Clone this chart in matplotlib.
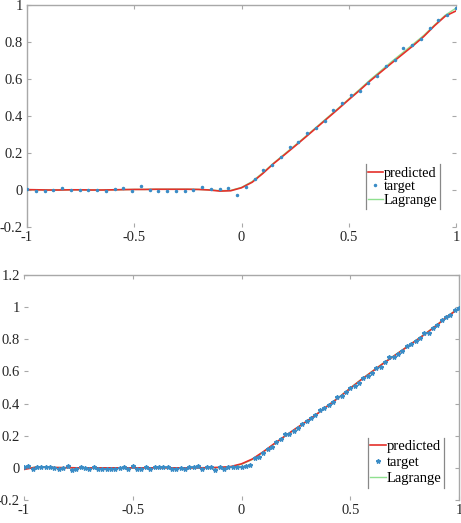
import numpy as np
import matplotlib
matplotlib.use("Agg")
import matplotlib.pyplot as plt
from matplotlib.lines import Line2D

plt.rcParams['font.family'] = ['Liberation Serif', 'DejaVu Serif']

# ---------------- data: top panel ----------------
x_target_top = np.linspace(-1, 1, 50)
y_target_top = [0.004, -0.005, -0.005, 0.002, 0.011, 0.002, 0.002, 0.002, 0.002, -0.007,
                0.007, 0.013, -0.005, 0.020, -0.002, -0.005, -0.007, -0.007, -0.007, 0.002,
                0.016, 0.004, 0.007, 0.013, -0.025,
                0.016, 0.062, 0.110, 0.134, 0.176, 0.231, 0.262, 0.307, 0.334, 0.371,
                0.430, 0.470, 0.516, 0.534, 0.576, 0.616, 0.670, 0.703, 0.765, 0.785,
                0.816, 0.874, 0.921, 0.946, 0.983]

x_curve = np.round(np.arange(-1, 1.0001, 0.05), 2)
y_pred_top = [0.002, 0.001, 0.000, 0.000, 0.001, 0.001, 0.000, 0.000, 0.001, 0.002,
              0.003, 0.003, 0.004, 0.004, 0.004, 0.004, 0.003, 0.000, -0.006, -0.004,
              0.012, 0.042, 0.090, 0.143, 0.190, 0.238, 0.287, 0.337, 0.387, 0.437,
              0.488, 0.538, 0.590, 0.638, 0.686, 0.733, 0.780, 0.830, 0.888, 0.940, 0.968]
y_lag_top = [0.002, 0.001, 0.000, 0.000, 0.001, 0.001, 0.000, 0.000, 0.001, 0.002,
             0.003, 0.003, 0.004, 0.004, 0.004, 0.004, 0.003, 0.001, -0.004, -0.002,
             0.014, 0.046, 0.094, 0.146, 0.194, 0.242, 0.291, 0.341, 0.391, 0.441,
             0.492, 0.543, 0.596, 0.645, 0.694, 0.741, 0.788, 0.836, 0.892, 0.945, 0.983]

# ---------------- data: bottom panel ----------------
x_target_bot = np.round(np.arange(-1, 1.0001, 0.02), 2)
y_target_bot = [0.005, 0.010, -0.005, 0.008, 0.004, 0.006, 0.004, 0.002, -0.004, -0.002,
                0.012, -0.016, -0.010, 0.006, 0.002, -0.006, 0.004, -0.008, -0.006, -0.006,
                -0.004, -0.004, -0.002, 0.008, -0.006, 0.010, -0.004, -0.008, 0.004, -0.006,
                0.006, 0.004, 0.006, 0.008, -0.008, -0.010, 0.002, -0.004, 0.008, 0.006,
                0.014, -0.008, 0.006, 0.004, -0.016, 0.008, -0.006, 0.004, 0.004, 0.006,
                0.004, 0.010, 0.020, 0.060, 0.070, 0.090, 0.120, 0.130, 0.160, 0.180,
                0.210, 0.210, 0.230, 0.250, 0.270, 0.290, 0.310, 0.330, 0.360, 0.370,
                0.390, 0.410, 0.440, 0.450, 0.470, 0.500, 0.510, 0.530, 0.560, 0.570,
                0.590, 0.620, 0.630, 0.660, 0.690, 0.690, 0.710, 0.730, 0.760, 0.770,
                0.790, 0.810, 0.840, 0.840, 0.870, 0.890, 0.920, 0.940, 0.950, 0.980, 0.995]
y_pred_bot = [-0.010, 0.003, 0.004, 0.002, 0.001, 0.000, 0.000, 0.000, 0.000, 0.000,
              0.000, 0.000, 0.000, 0.000, 0.000, 0.000, 0.000, 0.001, 0.003, 0.008,
              0.025, 0.055, 0.100, 0.150, 0.198, 0.245, 0.290, 0.338, 0.390, 0.440,
              0.495, 0.548, 0.598, 0.648, 0.695, 0.742, 0.790, 0.838, 0.890, 0.945, 0.992]
y_lag_bot = [-0.006, 0.004, 0.004, 0.002, 0.001, 0.000, 0.000, 0.000, 0.000, 0.000,
             0.000, 0.000, 0.000, 0.000, 0.000, 0.000, 0.000, 0.001, 0.002, 0.006,
             0.022, 0.052, 0.098, 0.148, 0.197, 0.244, 0.291, 0.339, 0.391, 0.442,
             0.497, 0.550, 0.600, 0.650, 0.697, 0.744, 0.792, 0.840, 0.892, 0.947, 0.995]

labels = ['predicted', 'target', 'Lagrange']
xticks = [-1, -0.5, 0, 0.5, 1]
xticklabels = ['-1', '-0.5', '0', '0.5', '1']
yticks_top = [-0.2, 0, 0.2, 0.4, 0.6, 0.8, 1]
yticklabels_top = ['-0.2', '0', '0.2', '0.4', '0.6', '0.8', '1']
yticks_bot = [-0.2, 0, 0.2, 0.4, 0.6, 0.8, 1, 1.2]
yticklabels_bot = ['-0.2', '0', '0.2', '0.4', '0.6', '0.8', '1', '1.2']

RED = '#e4302a'
GREEN = '#8fe08f'
BLUE = '#3a8cc6'
SPINE = '#a8a8a8'
TEXT = '#262626'

W, H = 461, 523
fig = plt.figure(figsize=(W / 100, H / 100), dpi=100)

ax1 = fig.add_axes([27 / W, 1 - 227 / H, (456 - 27) / W, (227 - 5) / H])
ax2 = fig.add_axes([24 / W, 1 - 500 / H, (459 - 24) / W, (500 - 275) / H])


def style(ax, yticks, yticklabels, ylim, visible_spines):
    ax.set_xlim(-1, 1)
    ax.set_ylim(*ylim)
    ax.set_xticks(xticks)
    ax.set_xticklabels(xticklabels)
    ax.set_yticks(yticks)
    ax.set_yticklabels(yticklabels)
    ax.tick_params(direction='in', length=3, width=0.8, color=SPINE,
                   labelsize=10.5, labelcolor=TEXT, top=True, right=True, pad=3)
    for name, sp in ax.spines.items():
        sp.set_color(SPINE)
        sp.set_linewidth(1.0)
        sp.set_visible(name in visible_spines)


# top panel
l1, = ax1.plot(x_curve, y_pred_top, color=RED, lw=1.2, zorder=3)
l2, = ax1.plot(x_target_top, y_target_top, linestyle='none', marker='.',
               markersize=3.0, color=BLUE, zorder=4)
l3, = ax1.plot(x_curve, y_lag_top, color=GREEN, lw=1.0, zorder=2)
style(ax1, yticks_top, yticklabels_top, (-0.2, 1), ('left', 'top'))
leg1 = ax1.legend([l1, l2, l3], labels, loc='lower right', bbox_to_anchor=(0.962, 0.08),
                  fontsize=10.3, frameon=False, handlelength=1.05, handletextpad=0.08,
                  labelspacing=0.05, borderpad=0.15, borderaxespad=0.0)

# bottom panel
m1, = ax2.plot(x_curve, y_pred_bot, color=RED, lw=1.2, zorder=3)
m2, = ax2.plot(x_target_bot, y_target_bot, linestyle='none', marker='*',
               markersize=3.2, color=BLUE, zorder=4)
m3, = ax2.plot(x_curve, y_lag_bot, color=GREEN, lw=1.0, zorder=2)
style(ax2, yticks_bot, yticklabels_bot, (-0.2, 1.2), ('top', 'right'))
leg2 = ax2.legend([m1, m2, m3], labels, loc='lower right', bbox_to_anchor=(0.965, 0.055),
                  fontsize=10.5, frameon=False, handlelength=1.05, handletextpad=0.08,
                  labelspacing=0.2, borderpad=0.15, borderaxespad=0.0)

# legend frames: only vertical edges visible
fig.canvas.draw()
inv = fig.transFigure.inverted()
for leg in (leg1, leg2):
    bb = leg.get_window_extent().transformed(inv)
    for xx in (bb.x0, bb.x1):
        fig.add_artist(Line2D([xx, xx], [bb.y0, bb.y1], transform=fig.transFigure,
                              color='#888888', lw=0.9))

fig.savefig('out.png', dpi=100)
